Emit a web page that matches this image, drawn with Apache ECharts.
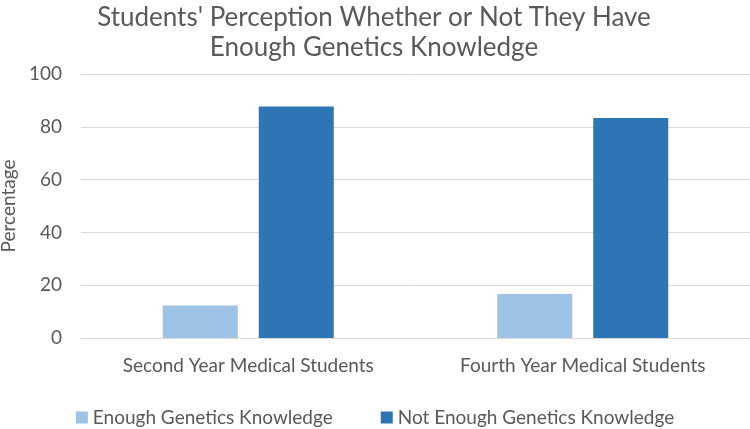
<!DOCTYPE html>
<html>
<head>
<meta charset="utf-8">
<script src="https://cdn.jsdelivr.net/npm/echarts@6/dist/echarts.min.js"></script>
<style>
  html, body { margin: 0; padding: 0; background: #fff; }
  #chart { width: 750px; height: 429px; }
</style>
</head>
<body>
<div id="chart"></div>
<script>
var categories = ['Second Year Medical Students', 'Fourth Year Medical Students'];
var enoughValues = [12.3, 16.7];
var notEnoughValues = [87.7, 83.3];
var seriesNames = ['Enough Genetics Knowledge', 'Not Enough Genetics Knowledge'];

var chart = echarts.init(document.getElementById('chart'));
var font = 'Lato';
var textColor = '#595959';

var option = {
    backgroundColor: '#fff',
    animation: false,
    title: {
        text: "Students' Perception Whether or Not They Have\nEnough Genetics Knowledge",
        left: 369,
        textAlign: 'center',
        top: -2,
        textStyle: {
            fontFamily: font,
            fontSize: 26,
            fontWeight: 'normal',
            color: textColor,
            lineHeight: 30
        }
    },
    legend: {
        data: seriesNames,
        top: 403,
        left: 'center',
        itemWidth: 12,
        itemHeight: 12,
        itemGap: 48,
        icon: 'rect',
        textStyle: { fontFamily: font, fontSize: 19, color: textColor }
    },
    grid: {
        left: 81,
        right: 0,
        top: 74,
        bottom: 91,
        outerBoundsMode: 'none'
    },
    xAxis: {
        type: 'category',
        data: categories,
        axisLine: { show: true, lineStyle: { color: '#d9d9d9' } },
        axisTick: { show: false },
        axisLabel: {
            fontFamily: font,
            fontSize: 19,
            color: textColor,
            margin: 18
        }
    },
    yAxis: {
        type: 'value',
        min: 0,
        max: 100,
        interval: 20,
        name: 'Percentage',
        nameLocation: 'middle',
        nameGap: 61,
        nameRotate: 90,
        nameTextStyle: { fontFamily: font, fontSize: 19, color: textColor },
        axisLine: { show: false },
        axisTick: { show: false },
        axisLabel: {
            fontFamily: font,
            fontSize: 19,
            color: textColor,
            margin: 19
        },
        splitLine: { lineStyle: { color: '#d9d9d9', width: 1 } }
    },
    series: [
        {
            name: seriesNames[0],
            type: 'bar',
            data: enoughValues,
            barWidth: 75,
            barGap: '28%',
            itemStyle: { color: '#9dc3e6' }
        },
        {
            name: seriesNames[1],
            type: 'bar',
            data: notEnoughValues,
            barWidth: 75,
            itemStyle: { color: '#2e75b6' }
        }
    ]
};

chart.setOption(option);
</script>
</body>
</html>
